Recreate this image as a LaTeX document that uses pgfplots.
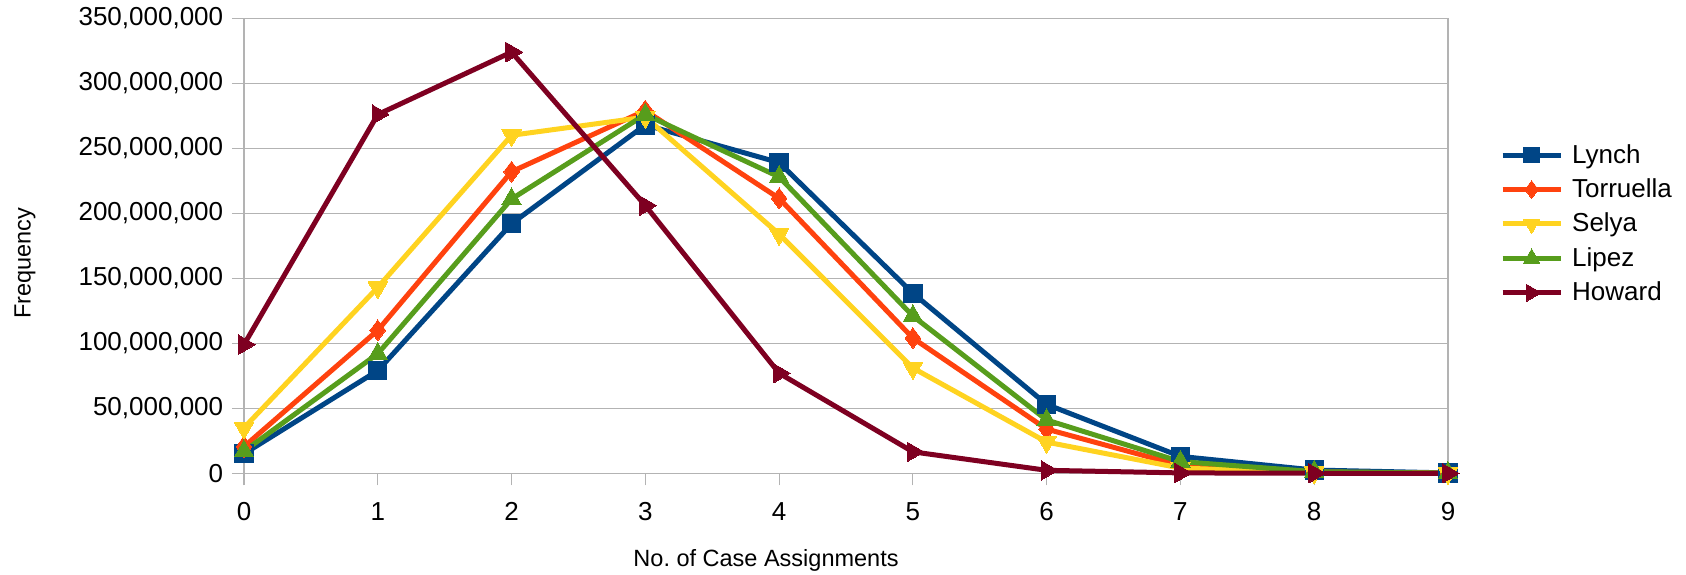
\documentclass[border=0pt]{standalone}
\usepackage{pgfplots}
\pgfplotsset{compat=1.18}
\usepackage{fontspec}
\setmainfont{Liberation Sans}
\definecolor{cLynch}{HTML}{004586}
\definecolor{cTorr}{HTML}{FF420E}
\definecolor{cSelya}{HTML}{FFD320}
\definecolor{cLipez}{HTML}{579D1C}
\definecolor{cHoward}{HTML}{7E0021}
\definecolor{gridc}{HTML}{B3B3B3}
\begin{document}
\begin{tikzpicture}
\path[use as bounding box] (-122bp,-50.85bp) rectangle (721bp,236.65bp);
\begin{axis}[
  at={(0,0)}, anchor=south west,
  scale only axis,
  width=602bp, height=227.5bp,
  xmin=0, xmax=9, ymin=0, ymax=350000000,
  xtick={0,1,...,9},
  ytick={0,50000000,100000000,150000000,200000000,250000000,300000000,350000000},
  scaled ticks=false,
  /pgf/number format/.cd, fixed, 1000 sep={,}, assume math mode=true,
  /pgfplots/.cd,
  tick pos=left,
  tick align=outside,
  major tick length=6bp,
  tick style={gridc, line width=0.6bp},
  axis line style={gridc, line width=0.6bp},
  ymajorgrids,
  grid style={gridc, line width=0.6bp},
  tick label style={font=\fontsize{13bp}{15.6bp}\selectfont},
  yticklabel style={xshift=-0.9bp},
  xticklabel style={yshift=-5bp},
  xlabel={No.\ of Case Assignments},
  ylabel={Frequency},
  every axis x label/.style={at={(axis description cs:0.4336,-0.1905)},anchor=center,font=\fontsize{11.75bp}{14bp}\selectfont},
  every axis y label/.style={at={(axis description cs:-0.1819,0.4615)},rotate=90,anchor=center,font=\fontsize{11.75bp}{14bp}\selectfont},
  clip=false,
  legend style={at={(axis description cs:1.043,0.548)}, anchor=west, draw=none, fill=none,
    inner sep=0pt,
    font=\fontsize{13bp}{15.6bp}\selectfont, row sep=6.3bp,
    nodes={inner sep=0pt},
    /tikz/every odd column/.style={column sep=4.5bp}},
  legend cell align=left,
  legend image code/.code={\draw[mark repeat=2,mark phase=2,#1, every mark/.append style={scale=0.85}] plot coordinates {(0bp,0bp) (14.5bp,0bp) (29bp,0bp)};},
  every axis plot/.append style={line width=2.5bp, line join=miter},
]
\addplot[cLynch, mark=square*, mark size=4.6bp, mark options={solid, line width=0pt}] coordinates {
(0,15000000) (1,79000000) (2,192000000) (3,268000000) (4,239000000) (5,138500000) (6,53000000) (7,13000000) (8,2500000) (9,300000)};
\addlegendentry{Lynch}
\addplot[cTorr, mark=diamond*, mark size=5.2bp, mark options={solid, line width=0pt}] coordinates {
(0,20500000) (1,110000000) (2,232000000) (3,279000000) (4,211500000) (5,104000000) (6,34000000) (7,6000000) (8,1000000) (9,100000)};
\addlegendentry{Torruella}
\addplot[cSelya, mark=triangle*, mark size=5.6bp, mark options={solid, rotate=180, line width=0pt}] coordinates {
(0,35000000) (1,143000000) (2,260000000) (3,274000000) (4,184000000) (5,81000000) (6,24000000) (7,4000000) (8,600000) (9,50000)};
\addlegendentry{Selya}
\addplot[cLipez, mark=triangle*, mark size=5.6bp, mark options={solid, line width=0pt}] coordinates {
(0,17000000) (1,92000000) (2,211000000) (3,276000000) (4,228000000) (5,121000000) (6,41000000) (7,9000000) (8,1300000) (9,100000)};
\addlegendentry{Lipez}
\addplot[cHoward, mark=triangle*, mark size=5.6bp, mark options={solid, rotate=-90, line width=0pt}] coordinates {
(0,99000000) (1,276000000) (2,324000000) (3,206000000) (4,77000000) (5,16500000) (6,2300000) (7,300000) (8,30000) (9,1000)};
\addlegendentry{Howard}
\end{axis}
\end{tikzpicture}
\end{document}
